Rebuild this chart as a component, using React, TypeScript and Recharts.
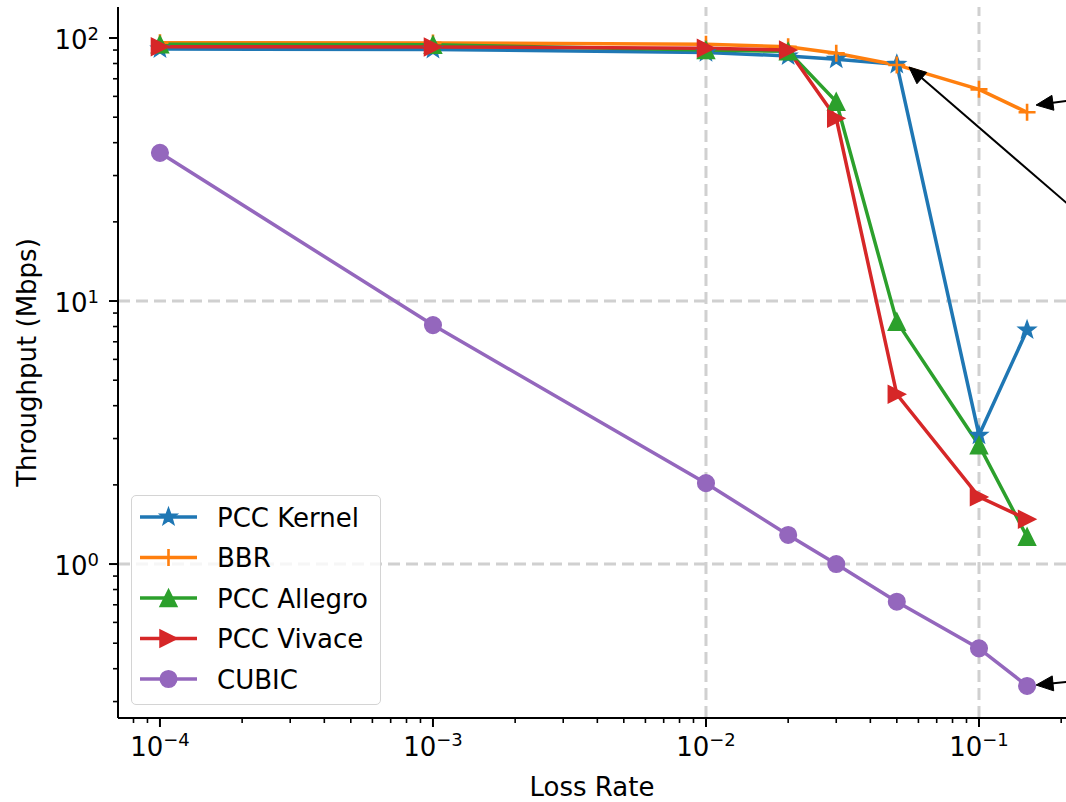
import React from "react";
import { Line, LineChart, ReferenceLine, XAxis, YAxis } from "recharts";

// loss rates (x) and throughput in Mbps (y)
const lossRates = [0.0001, 0.001, 0.01, 0.02, 0.03, 0.05, 0.1, 0.15];
const pccKernel = [90.8, 90.5, 88, 85.5, 83, 79.4, 3.09, 7.76];
const bbr = [96, 95.8, 94.6, 92.7, 87.5, 79, 63.8, 52.2];
const pccAllegro = [94.6, 94.3, 90, 89, 57.3, 8.35, 2.83, 1.27];
const pccVivace = [92.7, 92.5, 91.4, 90, 49.5, 4.42, 1.8, 1.48];
const cubic = [36.6, 8.1, 2.03, 1.29, 1.0, 0.719, 0.478, 0.344];

const seriesNames = ["PCC Kernel", "BBR", "PCC Allegro", "PCC Vivace", "CUBIC"];
const seriesKeys = ["kernel", "bbr", "allegro", "vivace", "cubic"];
const seriesColors = ["#1f77b4", "#ff7f0e", "#2ca02c", "#d62728", "#9467bd"];
const seriesShapes = ["star", "plus", "triUp", "triRight", "circle"];

// axis ticks
const xMajor = [0.0001, 0.001, 0.01, 0.1];
const xMinor = [8e-5, 9e-5];
const yMajor = [1, 10, 100];
const yMinorBelow = [0.3, 0.4, 0.5, 0.6, 0.7, 0.8, 0.9];
const mantissas = [2, 3, 4, 5, 6, 7, 8, 9];
const xDomain = [7.02e-5, 0.2083];
const yDomain = [0.2598, 131.2];
// only these grid lines are visible in the original
const gridX = [0.01, 0.1];
const gridY = [1, 10];

// annotation arrows (tail -> tip), data units
const arrowTailX = [0.3455, 0.484, 0.3455];
const arrowTailY = [61.8, 11.13, 0.375];
const arrowTipX = [0.1618, 0.0554, 0.1618];
const arrowTipY = [55.6, 77.6, 0.3467];

const xTicks = [
  ...xMinor,
  ...xMajor,
  ...[0.0001, 0.001, 0.01].flatMap((d) => mantissas.map((m) => +(d * m).toPrecision(3))),
  0.2,
].sort((a, b) => a - b);
const yTicks = [
  ...yMinorBelow,
  ...yMajor,
  ...[1, 10].flatMap((d) => mantissas.map((m) => d * m)),
].sort((a, b) => a - b);

const data = lossRates.map((loss, i) => ({
  loss,
  kernel: pccKernel[i],
  bbr: bbr[i],
  allegro: pccAllegro[i],
  vivace: pccVivace[i],
  cubic: cubic[i],
}));

const FONT = "'DejaVu Sans', sans-serif";

const isMajor = (v: number) => Math.abs(Math.log10(v) - Math.round(Math.log10(v))) < 1e-9;
const expText = (v: number) => {
  const e = Math.round(Math.log10(v));
  return e < 0 ? `\u2212${-e}` : `${e}`;
};

function Marker({ shape, cx, cy, color }: any) {
  if (cx == null || cy == null) return null;
  if (shape === "star") {
    const R = 9;
    const r = 3.7;
    const pts = [];
    for (let k = 0; k < 10; k++) {
      const a = -Math.PI / 2 + (k * Math.PI) / 5;
      const rr = k % 2 === 0 ? R : r;
      pts.push(`${cx + rr * Math.cos(a)},${cy + rr * Math.sin(a)}`);
    }
    return <polygon points={pts.join(" ")} fill={color} stroke={color} strokeWidth={1.5} strokeLinejoin="miter" />;
  }
  if (shape === "plus") {
    const h = 8.5;
    return (
      <path d={`M${cx - h},${cy}H${cx + h}M${cx},${cy - h}V${cy + h}`} stroke={color} strokeWidth={2.6} fill="none" />
    );
  }
  if (shape === "triUp") {
    const h = 8.5;
    return (
      <polygon
        points={`${cx},${cy - h} ${cx - h},${cy + h} ${cx + h},${cy + h}`}
        fill={color}
        stroke={color}
        strokeWidth={1.5}
        strokeLinejoin="miter"
      />
    );
  }
  if (shape === "triRight") {
    const h = 8.5;
    return (
      <polygon
        points={`${cx + h},${cy} ${cx - h},${cy - h} ${cx - h},${cy + h}`}
        fill={color}
        stroke={color}
        strokeWidth={1.5}
        strokeLinejoin="miter"
      />
    );
  }
  return <circle cx={cx} cy={cy} r={8.3} fill={color} stroke={color} strokeWidth={1.5} />;
}

const renderDot = (shape: string, color: string) => (p: any) =>
  <Marker key={`d-${shape}-${p.index}`} shape={shape} cx={p.cx} cy={p.cy} color={color} />;

function XTick(props: any) {
  const { x, y, payload } = props;
  const v = payload.value;
  const major = isMajor(v);
  return (
    <g>
      <line x1={x} x2={x} y1={y} y2={y + (major ? 9 : 5)} stroke="#000" strokeWidth={major ? 2 : 1.6} />
      {major && (
        <text x={x} y={y + 38} textAnchor="middle" fontSize={26} fill="#000" fontFamily={FONT}>
          <tspan>10</tspan>
          <tspan dy={-10} fontSize={18}>
            {expText(v)}
          </tspan>
        </text>
      )}
    </g>
  );
}

function YTick(props: any) {
  const { x, y, payload } = props;
  const v = payload.value;
  const major = isMajor(v);
  return (
    <g>
      <line x1={x} x2={x - (major ? 9 : 5)} y1={y} y2={y} stroke="#000" strokeWidth={major ? 2 : 1.6} />
      {major && (
        <text x={x - 19} y={y + 11} textAnchor="end" fontSize={26} fill="#000" fontFamily={FONT}>
          <tspan>10</tspan>
          <tspan dy={-9} fontSize={18}>
            {expText(v)}
          </tspan>
        </text>
      )}
    </g>
  );
}

function Arrow(props: any) {
  const { x1, y1, x2, y2 } = props;
  if ([x1, y1, x2, y2].some((n) => n == null || isNaN(n))) return null;
  const dx = x2 - x1;
  const dy = y2 - y1;
  const len = Math.hypot(dx, dy);
  const ux = dx / len;
  const uy = dy / len;
  const hl = 17;
  const hw = 7.5;
  const bx = x2 - ux * hl;
  const by = y2 - uy * hl;
  return (
    <g>
      <line x1={x1} y1={y1} x2={bx + ux * 2} y2={by + uy * 2} stroke="#000" strokeWidth={2} />
      <polygon
        points={`${x2},${y2} ${bx - uy * hw},${by + ux * hw} ${bx + uy * hw},${by - ux * hw}`}
        fill="#000"
        stroke="#000"
        strokeWidth={1}
        strokeLinejoin="miter"
      />
    </g>
  );
}

function ChartLegend() {
  return (
    <div
      style={{
        position: "absolute",
        left: 131,
        top: 495,
        width: 250,
        height: 210,
        border: "1.5px solid #d4d4d4",
        borderRadius: 5,
        background: "rgba(255,255,255,0.8)",
        boxSizing: "border-box",
      }}
    >
      <svg width={248} height={208} style={{ position: "absolute", left: -1.5, top: -1.5, overflow: "visible" }}>
        {seriesNames.map((name, i) => {
          const cy = 22 + i * 40.5;
          return (
            <g key={name}>
              <line x1={9} x2={66} y1={cy} y2={cy} stroke={seriesColors[i]} strokeWidth={3.5} />
              <Marker shape={seriesShapes[i]} cx={37.5} cy={cy} color={seriesColors[i]} />
              <text x={86} y={cy + 9.5} fontSize={26} fontFamily={FONT} fill="#000">
                {name}
              </text>
            </g>
          );
        })}
      </svg>
    </div>
  );
}

export default function App() {
  return (
    <div
      style={{
        position: "absolute",
        left: 0,
        top: 0,
        width: 1066,
        height: 802,
        overflow: "hidden",
        background: "#fff",
        fontFamily: FONT,
      }}
    >
      <LineChart width={1066} height={802} data={data} margin={{ top: 7, right: 0, bottom: 0, left: 0 }}>
        <XAxis
          dataKey="loss"
          type="number"
          scale="log"
          domain={xDomain}
          allowDataOverflow
          ticks={xTicks}
          interval={0}
          tick={<XTick />}
          tickLine={false}
          tickSize={0}
          tickMargin={0}
          height={84}
          axisLine={{ stroke: "#000", strokeWidth: 2 }}
          label={{
            content: (p: any) => {
              const vb = p.viewBox || { x: 118, y: 718, width: 948 };
              return (
                <text x={vb.x + vb.width / 2} y={vb.y + 78} textAnchor="middle" fontSize={26} fontFamily={FONT} fill="#000">
                  Loss Rate
                </text>
              );
            },
          }}
        />
        <XAxis
          xAxisId="top"
          dataKey="loss"
          orientation="top"
          type="number"
          scale="log"
          domain={xDomain}
          allowDataOverflow
          tick={false}
          tickLine={false}
          height={0}
          axisLine={{ stroke: "#000", strokeWidth: 2 }}
        />
        <YAxis
          type="number"
          scale="log"
          domain={yDomain}
          allowDataOverflow
          ticks={yTicks}
          interval={0}
          tick={<YTick />}
          tickLine={false}
          tickSize={0}
          tickMargin={0}
          width={118}
          axisLine={{ stroke: "#000", strokeWidth: 2 }}
          label={{
            content: (p: any) => {
              const vb = p.viewBox || { x: 0, y: 7, height: 711 };
              const cy = vb.y + vb.height / 2;
              return (
                <text
                  transform={`rotate(-90)`}
                  x={-cy}
                  y={vb.x + 36}
                  textAnchor="middle"
                  fontSize={26}
                  fontFamily={FONT}
                  fill="#000"
                >
                  Throughput (Mbps)
                </text>
              );
            },
          }}
        />
        {gridX.map((v) => (
          <ReferenceLine key={`gx${v}`} x={v} stroke="#d0d0d0" strokeWidth={3} strokeDasharray="12 6" />
        ))}
        {gridY.map((v) => (
          <ReferenceLine key={`gy${v}`} y={v} stroke="#d0d0d0" strokeWidth={3} strokeDasharray="12 6" />
        ))}
        {seriesKeys.map((k, i) => (
          <Line
            key={k}
            dataKey={k}
            name={seriesNames[i]}
            type="linear"
            stroke={seriesColors[i]}
            strokeWidth={3.5}
            dot={renderDot(seriesShapes[i], seriesColors[i])}
            activeDot={false}
            isAnimationActive={false}
          />
        ))}
        {arrowTipX.map((tx, i) => (
          <ReferenceLine
            key={`arrow${i}`}
            segment={[
              { x: arrowTailX[i], y: arrowTailY[i] },
              { x: tx, y: arrowTipY[i] },
            ]}
            ifOverflow="visible"
            shape={(p: any) => <Arrow {...p} />}
          />
        ))}
      </LineChart>
      <ChartLegend />
    </div>
  );
}
